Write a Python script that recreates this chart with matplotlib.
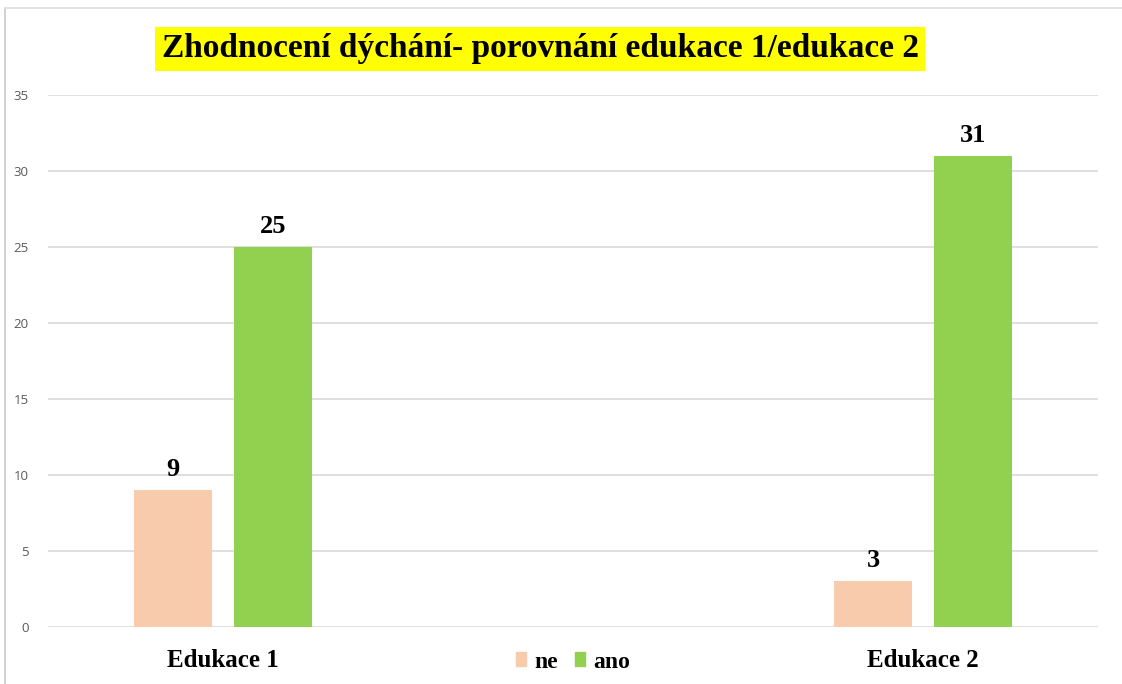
import matplotlib.pyplot as plt
import numpy as np
from matplotlib.lines import Line2D
from matplotlib.patches import Patch

# data
categories = ['Edukace 1', '', 'Edukace 2']
series_names = ['ne', 'ano']
ne_values = [9, None, 3]
ano_values = [25, None, 31]
y_ticks = [0, 5, 10, 15, 20, 25, 30, 35]

colors = {'ne': '#F8CBAD', 'ano': '#92D050'}
serif = ['Liberation Serif', 'DejaVu Serif']

fig = plt.figure(figsize=(11.22, 6.84), dpi=100)
ax = fig.add_axes([48 / 1122, 1 - 627 / 684, 1050 / 1122, 532 / 684])

x = np.arange(len(categories))
width = 0.223
offset = 0.143

for vals, name, sign in [(ne_values, 'ne', -1), (ano_values, 'ano', 1)]:
    for xi, v in zip(x, vals):
        if v is None:
            continue
        ax.bar(xi + sign * offset, v, width, color=colors[name], zorder=3)
        ax.text(xi + sign * offset, v + 0.6, str(v), ha='center', va='bottom',
                fontsize=19, fontweight='bold', family=serif)

ax.set_xlim(-0.5, len(categories) - 0.5)
ax.set_ylim(0, 35)
ax.set_yticks(y_ticks)
ax.set_yticklabels([str(t) for t in y_ticks], fontsize=9.5, color='#595959',
                   family='Open Sans')
ax.tick_params(axis='y', length=0, pad=14)
ax.set_xticks(x)
ax.set_xticklabels(categories, fontsize=18, fontweight='bold', family=serif)
ax.tick_params(axis='x', length=0, pad=16)
ax.grid(True, axis='y', color='#D9D9D9', linewidth=1.2, zorder=0)
for s in ax.spines.values():
    s.set_visible(False)

handles = [Patch(color=colors[n]) for n in series_names]
leg = ax.legend(handles, series_names, loc='center', bbox_to_anchor=(0.5, -0.066),
                ncol=2, frameon=False, handlelength=0.42, handleheight=0.55,
                handletextpad=0.35, columnspacing=0.7,
                prop={'family': serif, 'weight': 'bold', 'size': 17})

fig.text(540 / 1122, 1 - 49 / 684, 'Zhodnocení dýchání- porovnání edukace 1/edukace 2',
         ha='center', va='center', fontsize=24, fontweight='bold', family=serif,
         bbox=dict(boxstyle='square,pad=0.2', facecolor='#FFFF00', edgecolor='none'))

# screenshot border
fig.add_artist(Line2D([5 / 1122, 5 / 1122], [0, 1 - 8 / 684], color='#C8C8C8', linewidth=1.2))
fig.add_artist(Line2D([5 / 1122, 1], [1 - 8 / 684, 1 - 8 / 684], color='#DDDDDD', linewidth=1.2))

fig.savefig('out.png', dpi=100)
